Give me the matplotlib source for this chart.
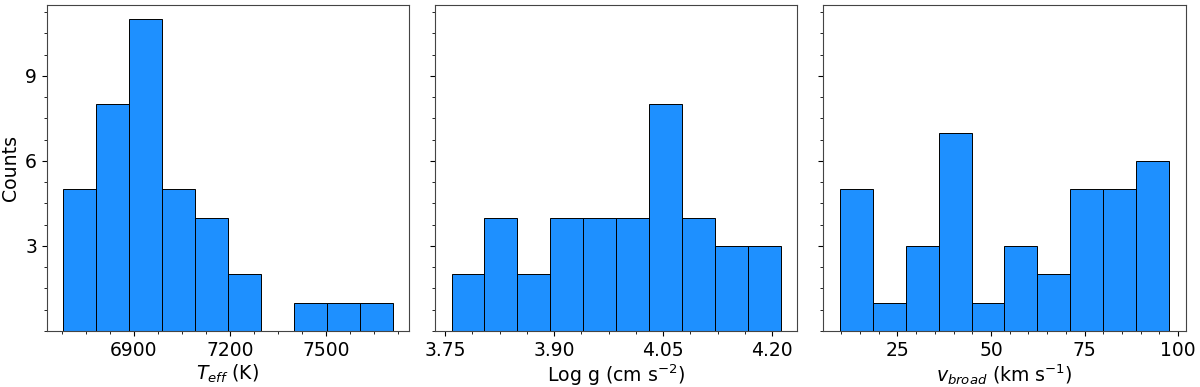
import numpy as np
import matplotlib
matplotlib.use("Agg")
import matplotlib.pyplot as plt

# histogram counts (38 stars)
teff_edges = np.linspace(6680, 7708, 11)
teff_counts = [5, 8, 11, 5, 4, 2, 0, 1, 1, 1]

logg_edges = np.linspace(3.759, 4.212, 11)
logg_counts = [2, 4, 2, 4, 4, 4, 8, 4, 3, 3]

vbroad_edges = np.linspace(9.6, 97.6, 11)
vbroad_counts = [5, 1, 3, 7, 1, 3, 2, 5, 5, 6]

teff_ticks = [6900, 7200, 7500]
logg_ticks = [3.75, 3.90, 4.05, 4.20]
vbroad_ticks = [25, 50, 75, 100]

fig, axes = plt.subplots(1, 3, figsize=(12, 3.87), dpi=100, sharey=True)
plt.subplots_adjust(left=0.039, right=0.988, top=0.987, bottom=0.145, wspace=0.072)

panels = [
    (teff_edges, teff_counts, teff_ticks, "$T_{eff}$ (K)", "{:.0f}"),
    (logg_edges, logg_counts, logg_ticks, "Log g (cm s$^{-2}$)", "{:.2f}"),
    (vbroad_edges, vbroad_counts, vbroad_ticks, "$v_{broad}$ (km s$^{-1}$)", "{:.0f}"),
]

for ax, (edges, counts, ticks, label, fmt) in zip(axes, panels):
    centers = 0.5 * (edges[:-1] + edges[1:])
    ax.hist(centers, bins=edges, weights=counts, color="dodgerblue",
            edgecolor="black", linewidth=0.7)
    ax.set_xticks(ticks)
    ax.set_xticklabels([fmt.format(t) for t in ticks])
    ax.set_xlabel(label, fontsize=13.6, labelpad=2)
    ax.minorticks_on()
    ax.tick_params(axis="both", which="major", labelsize=13.5)
    for s in ax.spines.values():
        s.set_color("#444444")

axes[0].set_yticks([3, 6, 9])
axes[0].set_ylim(0, 11.5)
axes[0].minorticks_on()
axes[0].set_ylabel("Counts", fontsize=13.6)

fig.savefig("out.png", dpi=100)
